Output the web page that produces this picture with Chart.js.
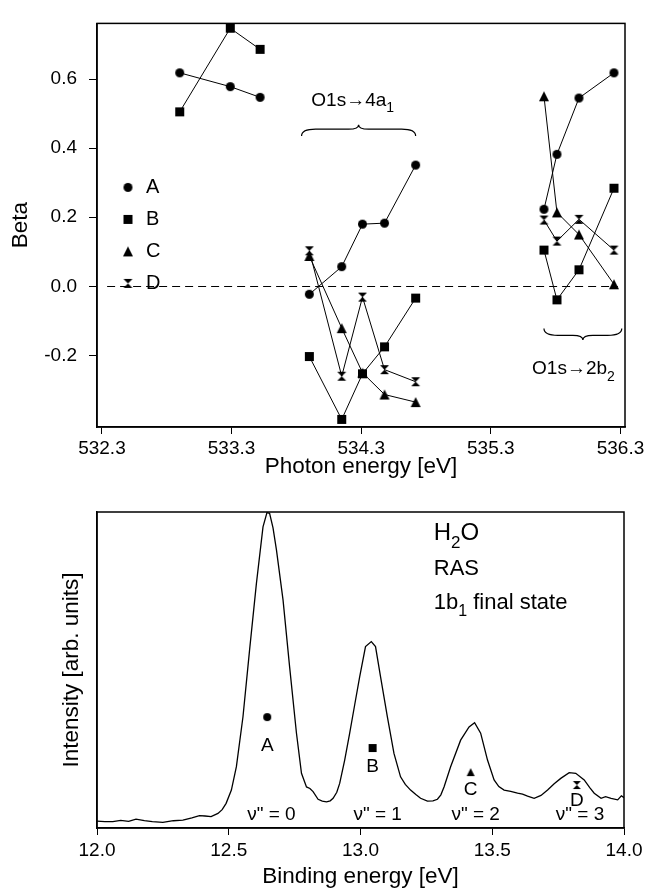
<!DOCTYPE html>
<html>
<head>
<meta charset="utf-8">
<title>Beta / RAS H2O</title>
<script src="https://cdn.jsdelivr.net/npm/chart.js@4.4.1/dist/chart.umd.min.js"></script>
<style>
  html, body { margin: 0; padding: 0; background: #fff; }
  #wrap { position: relative; width: 652px; height: 890px; }
  #chart-beta { position: absolute; left: 0; top: 0; }
  #chart-ras { position: absolute; left: 0; top: 490px; }
</style>
</head>
<body>
<div id="wrap">
  <canvas id="chart-beta" width="652" height="490"></canvas>
  <canvas id="chart-ras" width="652" height="400"></canvas>
</div>
<script>
// --- datos panel superior: beta frente a energía del fotón (null = corte de línea) ---
const photonEnergy = [532.9, 533.29, 533.52, null, 533.9, 534.15, 534.31, 534.48, 534.72, null, 535.71, 535.81, 535.98, 536.25];
const betaA = [0.618, 0.578, 0.547, null, -0.023, 0.057, 0.18, 0.183, 0.351, null, 0.223, 0.382, 0.545, 0.618];
const betaB = [0.505, 0.747, 0.686, null, -0.203, -0.385, -0.253, -0.175, -0.034, null, 0.105, -0.039, 0.048, 0.284];
const betaC = [null, null, null, null, 0.088, -0.121, -0.25, -0.313, -0.335, null, 0.55, 0.214, 0.15, 0.006];
const betaD = [null, null, null, null, 0.103, -0.26, -0.031, -0.241, -0.276, null, 0.192, 0.131, 0.194, 0.105];
const seriesNames = ['A', 'B', 'C', 'D'];
const photonTicks = [532.3, 533.3, 534.3, 535.3, 536.3];
const betaTicks = [-0.2, 0.0, 0.2, 0.4, 0.6];
const zeroLineSpan = [532.34, 536.28];

// --- datos panel inferior: espectro RAS ---
const bindingEnergy = [12.0, 12.03, 12.06, 12.09, 12.12, 12.148, 12.18, 12.21, 12.25, 12.29, 12.326, 12.36, 12.389, 12.41, 12.433, 12.459, 12.475, 12.49,
  12.51, 12.529, 12.554, 12.579, 12.605, 12.63, 12.645, 12.655, 12.668, 12.681, 12.706, 12.731, 12.757, 12.776, 12.795, 12.808, 12.82, 12.839,
  12.855, 12.871, 12.885, 12.896, 12.91, 12.921, 12.94, 12.959, 12.978, 12.997, 13.019, 13.041, 13.057, 13.076, 13.102, 13.127, 13.152, 13.17,
  13.19, 13.21, 13.228, 13.254, 13.275, 13.292, 13.305, 13.317, 13.342, 13.38, 13.412, 13.433, 13.456, 13.482, 13.507, 13.525, 13.545, 13.57,
  13.596, 13.615, 13.634, 13.659, 13.685, 13.71, 13.735, 13.76, 13.792, 13.817, 13.849, 13.87, 13.887, 13.913, 13.93, 13.951, 13.976, 13.99, 14.0];
const intensity = [2.2, 2.0, 2.0, 2.4, 2.1, 2.8, 2.3, 2.0, 1.8, 2.3, 2.5, 3.2, 3.9, 3.8, 3.6, 4.6, 5.8, 7.8,
  12.0, 19.4, 35.2, 56.3, 77.4, 95.3, 99.8, 99.6, 95.0, 88.0, 72.2, 51.0, 30.0, 17.3, 13.0, 12.5, 11.5, 9.1,
  8.5, 8.3, 8.6, 9.4, 11.3, 14.1, 21.5, 30.0, 39.0, 47.9, 57.4, 59.0, 57.4, 47.9, 35.2, 23.6, 16.2, 13.8,
  12.0, 10.6, 9.4, 8.5, 8.6, 9.1, 10.5, 13.0, 19.4, 27.8, 32.0, 33.3, 30.0, 21.5, 15.2, 13.1, 12.0, 11.6,
  11.0, 10.7, 10.1, 9.4, 10.3, 12.0, 14.0, 15.7, 17.5, 17.3, 15.2, 12.8, 11.0, 9.4, 9.9, 9.4, 8.9, 10.2, 9.6];
const peakEnergy = [12.646, 13.046, 13.418, 13.821];
const peakMarkerI = [35.1, 25.3, 17.7, 13.6];
const peakLabelI = [26.0, 19.5, 12.2, 8.7];
const vibLabels = ['ν" = 0', 'ν" = 1', 'ν" = 2', 'ν" = 3'];
const vibEnergy = [12.662, 13.065, 13.437, 13.833];
const vibLabelI = 4.1;
const bindingTicks = [12.0, 12.5, 13.0, 13.5, 14.0];

const FONT = '"Liberation Sans", Arial, Helvetica, sans-serif';

// marcadores dibujados a mano (el reloj de arena no existe en Chart.js)
function makeMarker(kind, s) {
  const c = document.createElement('canvas');
  c.width = s + 2; c.height = s + 2;
  const g = c.getContext('2d');
  const m = 1, e = s + 1, mid = (s + 2) / 2;
  g.fillStyle = '#000';
  g.beginPath();
  if (kind === 'circle') g.arc(mid, mid, s / 2, 0, Math.PI * 2);
  else if (kind === 'square') g.rect(m, m, s, s);
  else if (kind === 'triangle') { g.moveTo(mid, m); g.lineTo(e, e); g.lineTo(m, e); g.closePath(); }
  else {
    g.moveTo(m, m); g.lineTo(e, m); g.lineTo(mid, mid); g.closePath();
    g.moveTo(m, e); g.lineTo(e, e); g.lineTo(mid, mid); g.closePath();
  }
  g.fill();
  return c;
}
const kinds = ['circle', 'square', 'triangle', 'hourglass'];
const markersTop = kinds.map(k => makeMarker(k, k === 'triangle' ? 10 : 9));
const markersLow = kinds.map(k => makeMarker(k, 8));

function drawRich(ctx, parts, x, y, size) {
  let cx = x;
  for (const p of parts) {
    const sub = p.startsWith('_');
    const t = sub ? p.slice(1) : p;
    ctx.font = `${sub ? Math.round(size * 0.72) : size}px ${FONT}`;
    ctx.fillText(t, cx, sub ? y + size * 0.32 : y);
    cx += ctx.measureText(t).width;
  }
}

function drawBrace(ctx, x0, x1, yEnd, yTip) {
  const xm = (x0 + x1) / 2;
  const yFlat = yEnd + (yTip - yEnd) * 0.6;
  ctx.beginPath();
  ctx.moveTo(x0, yEnd);
  ctx.quadraticCurveTo(x0, yFlat, x0 + 14, yFlat);
  ctx.lineTo(xm - 10, yFlat);
  ctx.quadraticCurveTo(xm, yFlat, xm, yTip);
  ctx.quadraticCurveTo(xm, yFlat, xm + 10, yFlat);
  ctx.lineTo(x1 - 14, yFlat);
  ctx.quadraticCurveTo(x1, yFlat, x1, yEnd);
  ctx.stroke();
}

function drawFrame(chart) {
  const { ctx, chartArea: a } = chart;
  ctx.save();
  ctx.strokeStyle = '#000';
  ctx.lineWidth = 1.5;
  ctx.strokeRect(a.left, a.top, a.right - a.left, a.bottom - a.top);
  ctx.restore();
}

// --- panel superior ---
const betaDecor = {
  id: 'betaDecor',
  beforeDatasetsDraw(chart) {
    const { ctx, scales: { x, y } } = chart;
    const y0 = Math.round(y.getPixelForValue(0)) + 0.5;
    ctx.save();
    ctx.strokeStyle = '#000';
    ctx.lineWidth = 1;
    ctx.setLineDash([8, 5]);
    ctx.beginPath();
    ctx.moveTo(x.getPixelForValue(zeroLineSpan[0]), y0);
    ctx.lineTo(x.getPixelForValue(zeroLineSpan[1]), y0);
    ctx.stroke();
    ctx.restore();
  },
  afterDraw(chart) {
    const { ctx, chartArea: a, scales: { x, y } } = chart;
    drawFrame(chart);
    ctx.save();
    ctx.fillStyle = '#000';
    ctx.strokeStyle = '#000';
    ctx.lineWidth = 1.2;
    // leyenda dentro del área
    ctx.font = `20px ${FONT}`;
    ctx.textBaseline = 'middle';
    seriesNames.forEach((name, i) => {
      const ly = a.top + 164 + i * 32;
      const m = markersTop[i];
      ctx.drawImage(m, a.left + 31 - m.width / 2, ly - m.height / 2);
      ctx.fillText(name, a.left + 49, ly);
    });
    // llaves y etiquetas de transición
    drawBrace(ctx, x.getPixelForValue(533.84), x.getPixelForValue(534.72), y.getPixelForValue(0.435), y.getPixelForValue(0.468));
    drawBrace(ctx, x.getPixelForValue(535.71), x.getPixelForValue(536.31), y.getPixelForValue(-0.122), y.getPixelForValue(-0.155));
    ctx.textBaseline = 'alphabetic';
    drawRich(ctx, ['O1s→4a', '_1'], x.getPixelForValue(533.915), y.getPixelForValue(0.521), 19);
    drawRich(ctx, ['O1s→2b', '_2'], x.getPixelForValue(535.618), y.getPixelForValue(-0.255), 19);
    ctx.restore();
  }
};

const betaSeries = [betaA, betaB, betaC, betaD];
new Chart(document.getElementById('chart-beta'), {
  type: 'line',
  data: {
    datasets: betaSeries.map((vals, i) => ({
      label: seriesNames[i],
      data: photonEnergy.map((e, j) => ({ x: e, y: vals[j] })),
      borderColor: '#000',
      backgroundColor: '#000',
      borderWidth: 1,
      pointStyle: markersTop[i],
      pointRadius: 5,
      spanGaps: false,
      clip: false
    }))
  },
  options: {
    responsive: false,
    animation: false,
    devicePixelRatio: 1,
    layout: { padding: { top: 13, right: 27, left: 0, bottom: 0 } },
    plugins: { legend: { display: false }, tooltip: { enabled: false } },
    scales: {
      x: {
        type: 'linear',
        min: 532.262, max: 536.335,
        afterBuildTicks: s => { s.ticks = photonTicks.map(v => ({ value: v })); },
        afterFit: s => { s.height = 63; },
        grid: { display: true, drawOnChartArea: false, drawTicks: true, tickLength: 7, color: '#000' },
        border: { display: true, color: '#000', width: 1.5 },
        ticks: { color: '#000', font: { family: FONT, size: 19 }, padding: 3, maxRotation: 0, callback: v => v.toFixed(1) },
        title: { display: true, text: 'Photon energy [eV]', color: '#000', font: { family: FONT, size: 22.5 }, padding: { top: 0, bottom: 10 } }
      },
      y: {
        min: -0.407, max: 0.761,
        afterBuildTicks: s => { s.ticks = betaTicks.map(v => ({ value: v })); },
        afterFit: s => { s.width = 97; },
        grid: { display: true, drawOnChartArea: false, drawTicks: true, tickLength: 8, color: '#000' },
        border: { display: true, color: '#000', width: 1.5 },
        ticks: { color: '#000', font: { family: FONT, size: 19 }, padding: 12, callback: v => v.toFixed(1) },
        title: { display: true, text: 'Beta', color: '#000', font: { family: FONT, size: 22.5 }, padding: { top: 7, bottom: 0 } }
      }
    }
  },
  plugins: [betaDecor]
});

// --- panel inferior ---
const rasDecor = {
  id: 'rasDecor',
  afterDraw(chart) {
    const { ctx, scales: { x, y } } = chart;
    drawFrame(chart);
    ctx.save();
    ctx.fillStyle = '#000';
    ctx.textAlign = 'center';
    ctx.textBaseline = 'middle';
    ctx.font = `19px ${FONT}`;
    seriesNames.forEach((name, i) => {
      ctx.fillText(name, x.getPixelForValue(peakEnergy[i]), y.getPixelForValue(peakLabelI[i]));
    });
    vibLabels.forEach((t, i) => {
      ctx.fillText(t, x.getPixelForValue(vibEnergy[i]), y.getPixelForValue(vibLabelI));
    });
    ctx.textAlign = 'left';
    ctx.textBaseline = 'alphabetic';
    const tx = x.getPixelForValue(13.278);
    drawRich(ctx, ['H', '_2', 'O'], tx, y.getPixelForValue(91.0), 24);
    drawRich(ctx, ['RAS'], tx, y.getPixelForValue(80.0), 22);
    drawRich(ctx, ['1b', '_1', ' final state'], tx, y.getPixelForValue(69.4), 22);
    ctx.restore();
  }
};

new Chart(document.getElementById('chart-ras'), {
  type: 'line',
  data: {
    datasets: [
      {
        label: 'RAS',
        data: bindingEnergy.map((e, j) => ({ x: e, y: intensity[j] })),
        borderColor: '#000',
        borderWidth: 1.3,
        pointRadius: 0,
        tension: 0
      },
      {
        label: 'marcas',
        data: peakEnergy.map((e, j) => ({ x: e, y: peakMarkerI[j] })),
        showLine: false,
        pointStyle: markersLow,
        pointRadius: 5
      }
    ]
  },
  options: {
    responsive: false,
    animation: false,
    devicePixelRatio: 1,
    layout: { padding: { top: 22, right: 28, left: 0, bottom: 0 } },
    plugins: { legend: { display: false }, tooltip: { enabled: false } },
    scales: {
      x: {
        type: 'linear',
        min: 12.0, max: 14.0,
        afterBuildTicks: s => { s.ticks = bindingTicks.map(v => ({ value: v })); },
        afterFit: s => { s.height = 62; },
        grid: { display: true, drawOnChartArea: false, drawTicks: true, tickLength: 7, color: '#000' },
        border: { display: true, color: '#000', width: 1.5 },
        ticks: { color: '#000', font: { family: FONT, size: 19 }, padding: 4, maxRotation: 0, callback: v => v.toFixed(1) },
        title: { display: true, text: 'Binding energy [eV]', color: '#000', font: { family: FONT, size: 22.5 }, padding: { top: 0, bottom: 0 } }
      },
      y: {
        min: 0, max: 100,
        afterFit: s => { s.width = 97; },
        grid: { display: false },
        border: { display: true, color: '#000', width: 1.5 },
        ticks: { display: false },
        title: { display: true, text: 'Intensity [arb. units]', color: '#000', font: { family: FONT, size: 22.5 }, padding: { top: 58, bottom: 0 } }
      }
    }
  },
  plugins: [rasDecor]
});
</script>
</body>
</html>
